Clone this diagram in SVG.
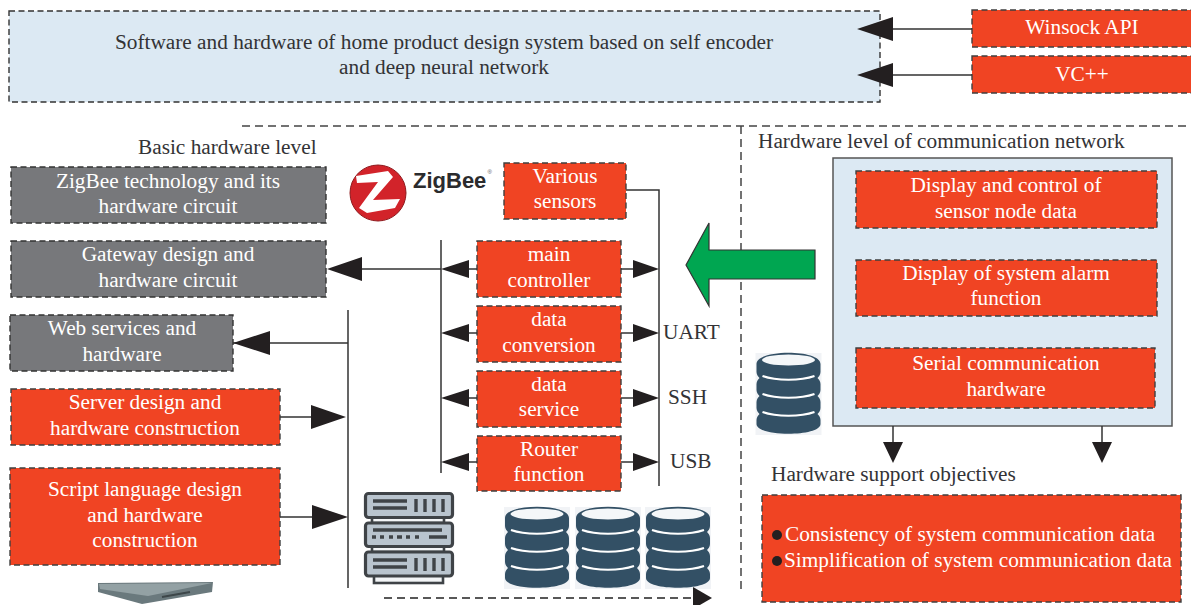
<svg xmlns="http://www.w3.org/2000/svg" width="1191" height="605" viewBox="0 0 1191 605">
<style>
text{font-family:"Liberation Serif","Times New Roman",serif;font-size:21.3px;fill:#fff;text-anchor:middle}
text.k{fill:#333336}
text.l{text-anchor:start}
.red{fill:#f04423;stroke:#3f3f3f;stroke-width:1.4;stroke-dasharray:6 3.5}
.grey{fill:#77787b;stroke:#333;stroke-width:1.4;stroke-dasharray:6 3.5}
.blue{fill:#dce9f3;stroke:#333;stroke-width:1.4;stroke-dasharray:6 3.5}
.ln{fill:none;stroke:#333;stroke-width:1.5}
.dash{fill:none;stroke:#444;stroke-width:1.5;stroke-dasharray:8 5}
.ah{fill:#231f20}
.dbc{fill:#335065}
.u{fill:#b9c4ce;stroke:#3f4347;stroke-width:3.2}
.w{fill:#f3f5f7;stroke:#3f4347;stroke-width:2.6}
</style>
<defs>
<filter id="soft" x="-5%" y="-20%" width="110%" height="140%"><feGaussianBlur stdDeviation="0.7"/></filter>
<g id="db">
<rect x="-33" y="-40" width="66" height="82" fill="#f1f3f6"/>
<path class="dbc" d="M-32-29C-32-44 32-44 32-29V-21C32-18 30-16 29-15C30-14 32-12 32-9V-3C32 0 30 2 29 3C30 4 32 6 32 9V15C32 18 30 20 29 21C30 22 32 24 32 27V31C32 44-32 44-32 31V27C-32 24-30 22-29 21C-30 20-32 18-32 15V9C-32 6-30 4-29 3C-30 2-32 0-32-3V-9C-32-12-30-14-29-15C-30-16-32-18-32-21Z"/>
<ellipse cx="0" cy="-33" rx="26.5" ry="5.5" fill="#f4f7f9"/>
<path d="M-26-17C-12-12 12-12 26-17M-26 1C-12 6 12 6 26 1M-26 19C-12 24 12 24 26 19" fill="none" stroke="#fff" stroke-width="2.2"/>
</g>
</defs>
<g id="node-main"><rect class="blue" x="9" y="11" width="871" height="91"/>
<text class="k" x="444" y="49">Software and hardware of home product design system based on self encoder</text>
<text class="k" x="444" y="74">and deep neural network</text></g>
<g id="node-winsock"><rect class="red" x="972" y="10" width="222" height="37"/><text x="1082" y="34">Winsock API</text></g>
<g id="node-vc"><rect class="red" x="972" y="56" width="222" height="37"/><text x="1082" y="81">VC++</text></g>
<g id="label-basic"><text class="k l" x="138" y="154">Basic hardware level</text></g>
<g id="label-comm"><text class="k l" x="758" y="148">Hardware level of communication network</text></g>
<g id="node-zigbee-tech"><rect class="grey" x="11" y="167" width="315" height="56"/><text x="168" y="188">ZigBee technology and its</text><text x="168" y="213">hardware circuit</text></g>
<g id="node-gateway"><rect class="grey" x="11" y="241" width="315" height="56"/><text x="168" y="261">Gateway design and</text><text x="168" y="287">hardware circuit</text></g>
<g id="node-web"><rect class="grey" x="10" y="315" width="223" height="56"/><text x="122" y="335">Web services and</text><text x="122" y="361">hardware</text></g>
<g id="node-server"><rect class="red" x="11" y="389" width="269" height="56"/><text x="145" y="409">Server design and</text><text x="145" y="435">hardware construction</text></g>
<g id="node-script"><rect class="red" x="10" y="468" width="270" height="97"/><text x="145" y="496">Script language design</text><text x="145" y="522">and hardware</text><text x="145" y="547">construction</text></g>
<g id="logo-zigbee">
<circle cx="378" cy="193" r="28" fill="#d2232a" stroke="#8f1a1e" stroke-width="1"/>
<path d="M356 176L388 171L393 177L373 200L400 199L395 208L367 213L359 208L378 182L357 183Z" fill="#fff"/>
<text x="413" y="188" style="font-family:'Liberation Sans',sans-serif;font-weight:bold;font-size:22px;fill:#2b2b2d;text-anchor:start">ZigBee</text>
<text x="487.500" y="174" style="font-family:'Liberation Sans',sans-serif;font-size:6px;fill:#555;text-anchor:start">®</text>
</g>
<g id="node-sensors"><rect class="red" x="504" y="163" width="122" height="56"/><text x="565" y="183">Various</text><text x="565" y="208">sensors</text></g>
<g id="node-controller"><rect class="red" x="477" y="241" width="144" height="56"/><text x="549" y="261">main</text><text x="549" y="287">controller</text></g>
<g id="node-conversion"><rect class="red" x="477" y="306" width="144" height="56"/><text x="549" y="326">data</text><text x="549" y="352">conversion</text></g>
<g id="node-service"><rect class="red" x="477" y="371" width="144" height="56"/><text x="549" y="391">data</text><text x="549" y="416">service</text></g>
<g id="node-router"><rect class="red" x="477" y="436" width="144" height="55"/><text x="549" y="456">Router</text><text x="549" y="481">function</text></g>
<g id="label-protocols"><text class="k l" x="663" y="339">UART</text><text class="k l" x="668" y="404">SSH</text><text class="k l" x="670" y="468">USB</text></g>
<g id="node-comm"><rect x="833" y="158" width="339" height="268" fill="#dce9f3" stroke="#555" stroke-width="1.5"/></g>
<g id="node-display"><rect class="red" x="856" y="171" width="301" height="57"/><text x="1006" y="192">Display and control of</text><text x="1006" y="218">sensor node data</text></g>
<g id="node-alarm"><rect class="red" x="856" y="260" width="301" height="56"/><text x="1006" y="280">Display of system alarm</text><text x="1006" y="305">function</text></g>
<g id="node-serial"><rect class="red" x="856" y="348" width="299" height="60"/><text x="1006" y="370">Serial communication</text><text x="1006" y="396">hardware</text></g>
<g id="label-support"><text class="k l" x="771" y="481">Hardware support objectives</text></g>
<g id="node-objectives"><rect class="red" x="762" y="495" width="419" height="107"/>
<circle cx="777" cy="535" r="5" fill="#231f20"/><circle cx="777" cy="561" r="5" fill="#231f20"/>
<text class="l" x="785" y="541">Consistency of system communication data</text>
<text class="l" x="784" y="567">Simplification of system communication data</text></g>
<g id="icon-db1"><use href="#db" transform="translate(788.5 393)"/></g>
<g id="icon-db2"><use href="#db" transform="translate(537 547)"/><use href="#db" transform="translate(608 547)"/><use href="#db" transform="translate(678 547)"/></g>
<g id="icon-server">
<rect x="372" y="516" width="72" height="7" class="w"/>
<rect x="372" y="545" width="72" height="7" class="w"/>
<rect x="374" y="575" width="69" height="8" class="w"/>
<rect class="u" x="365.500" y="493.500" width="87" height="24" rx="3"/>
<rect class="u" x="365.500" y="523" width="87" height="23.500" rx="3"/>
<rect class="u" x="365.500" y="552" width="87" height="24" rx="3"/>
<path d="M373 501H407M373 508H407M416 499V512M425 499V512M434 499V512M443 499V512M373 530H442M372 537H376M380 537H384M389 537H393M397 537H402M406 537H410M415 537H419M429 537H447M373 560H407M373 567H407M416 558V571M425 558V571M434 558V571M443 558V571" fill="none" stroke="#3f4347" stroke-width="3.400"/>
</g>
<g id="icon-device" filter="url(#soft)">
<path d="M98 583L213 582L212 592L142 604L98 592Z" fill="#6b797d"/>
<path d="M99 584L212 583L148 596L100 589Z" fill="#93a1a4"/>
<path d="M162 597L190 592" stroke="#3d4649" stroke-width="2" fill="none"/>
</g>
<g id="connectors">
<path class="dash" d="M242 126H1191M741 126V590"/>
<path class="ln" d="M893 29H972M893 75H972M233 343H348M280 417H312M280 517H312M348 310V588M441 240V473M362 269H441M469 269H477M469 333H477M469 398H477M469 462H477M621 269H633M621 333H633M621 398H633M621 462H633M626 190H659V486M893 426V442M1102 426V442"/>
<path class="dash" d="M384 598H692" style="stroke:#222"/>
<g class="ah">
<path d="M857 29L893 17V41ZM857 75L893 63V87Z"/>
<path d="M327 269L362 257V281ZM233 343L270 331V355Z"/>
<path d="M346 417L311 405V429ZM348 517L312 505V529Z"/>
<path d="M441 269L469 260V278ZM441 333L469 324V342ZM441 398L469 389V407ZM441 462L469 453V471Z"/>
<path d="M659 269L633 260V278ZM659 333L633 324V342ZM659 398L633 389V407ZM659 462L633 453V471Z"/>
<path d="M893 463L883 442H903ZM1102 463L1092 442H1112Z"/>
<path d="M712 598L693 587V609Z"/>
</g>
</g>
<g id="arrow-green"><path d="M686 265L709 223V250H815V279H709V306Z" fill="#00a651" stroke="#333" stroke-width="1.2"/></g>
</svg>
